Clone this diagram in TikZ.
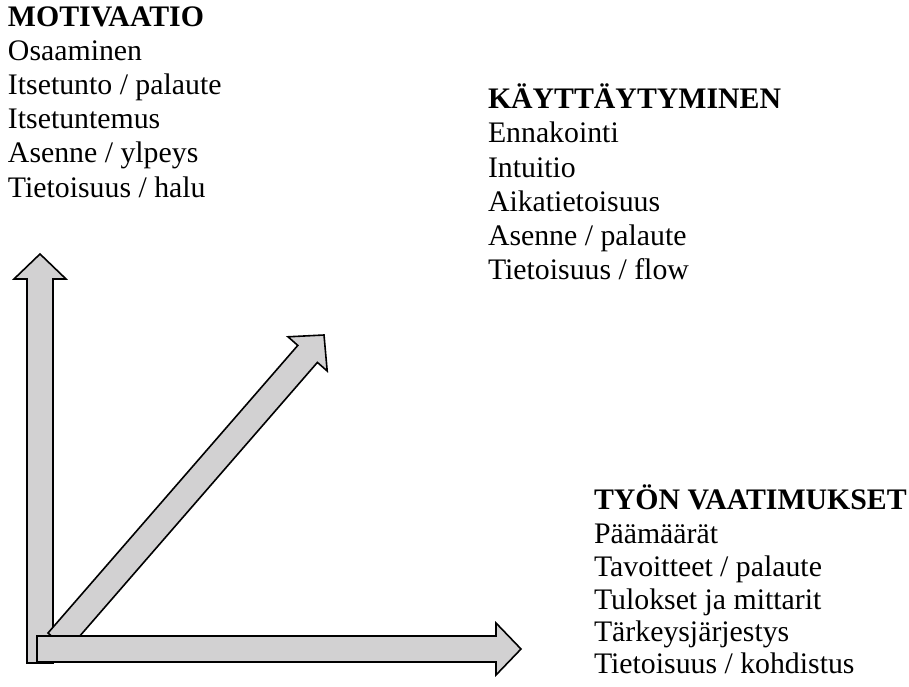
\documentclass[tikz,border=0pt]{standalone}
\usepackage{fontspec}
\setmainfont{Liberation Serif}
\definecolor{arrowfill}{RGB}{210,209,210}
\tikzset{
  bigarrow/.style={draw=black, fill=arrowfill, line width=1.6pt, line join=miter},
  txt/.style={anchor=base west, inner sep=0pt, outer sep=0pt, font=\fontsize{29.8}{34}\selectfont},
  head/.style={txt, font=\fontsize{29.8}{34}\selectfont\bfseries}
}
\begin{document}
\begin{tikzpicture}[x=1pt,y=-1pt]
\useasboundingbox (0,0) rectangle (909,687);
% vertical arrow
\coordinate (vtip) at (40,254);
\draw[bigarrow] (27,663) -- (27,279) -- (14,279) -- (vtip) -- (66,279) -- (53,279) -- (53,663) -- cycle;
% diagonal arrow
\coordinate (dtip) at (324,335);
\draw[bigarrow] (48,633) -- (297.8,345.4) -- (288,336.8) -- (dtip) -- (327.2,371) -- (317.4,362.4) -- (67.6,650.1) -- cycle;
% horizontal arrow
\coordinate (htip) at (521,649);
\draw[bigarrow] (37,636) -- (496,636) -- (496,623) -- (htip) -- (496,675) -- (496,662) -- (37,662) -- cycle;
% MOTIVAATIO block
\node[head] (m0) at (8,27) {MOTIVAATIO};
\node[txt] (m1) at (8,61) {Osaaminen};
\node[txt] (m2) at (8,95) {Itsetunto / palaute};
\node[txt] (m3) at (8,129) {Itsetuntemus};
\node[txt] (m4) at (8,163) {Asenne / ylpeys};
\node[txt] (m5) at (8,197) {Tietoisuus / halu};
% KAYTTAYTYMINEN block
\node[head] (k0) at (488,109) {KÄYTTÄYTYMINEN};
\node[txt] (k1) at (488,143) {Ennakointi};
\node[txt] (k2) at (488,177) {Intuitio};
\node[txt] (k3) at (488,211) {Aikatietoisuus};
\node[txt] (k4) at (488,245) {Asenne / palaute};
\node[txt] (k5) at (488,279) {Tietoisuus / flow};
% TYON VAATIMUKSET block
\node[head] (t0) at (594,509) {TYÖN VAATIMUKSET};
\node[txt] (t1) at (594,543) {Päämäärät};
\node[txt] (t2) at (594,576) {Tavoitteet / palaute};
\node[txt] (t3) at (594,609) {Tulokset ja mittarit};
\node[txt] (t4) at (594,641) {Tärkeysjärjestys};
\node[txt] (t5) at (594,673) {Tietoisuus / kohdistus};
\end{tikzpicture}
\end{document}
